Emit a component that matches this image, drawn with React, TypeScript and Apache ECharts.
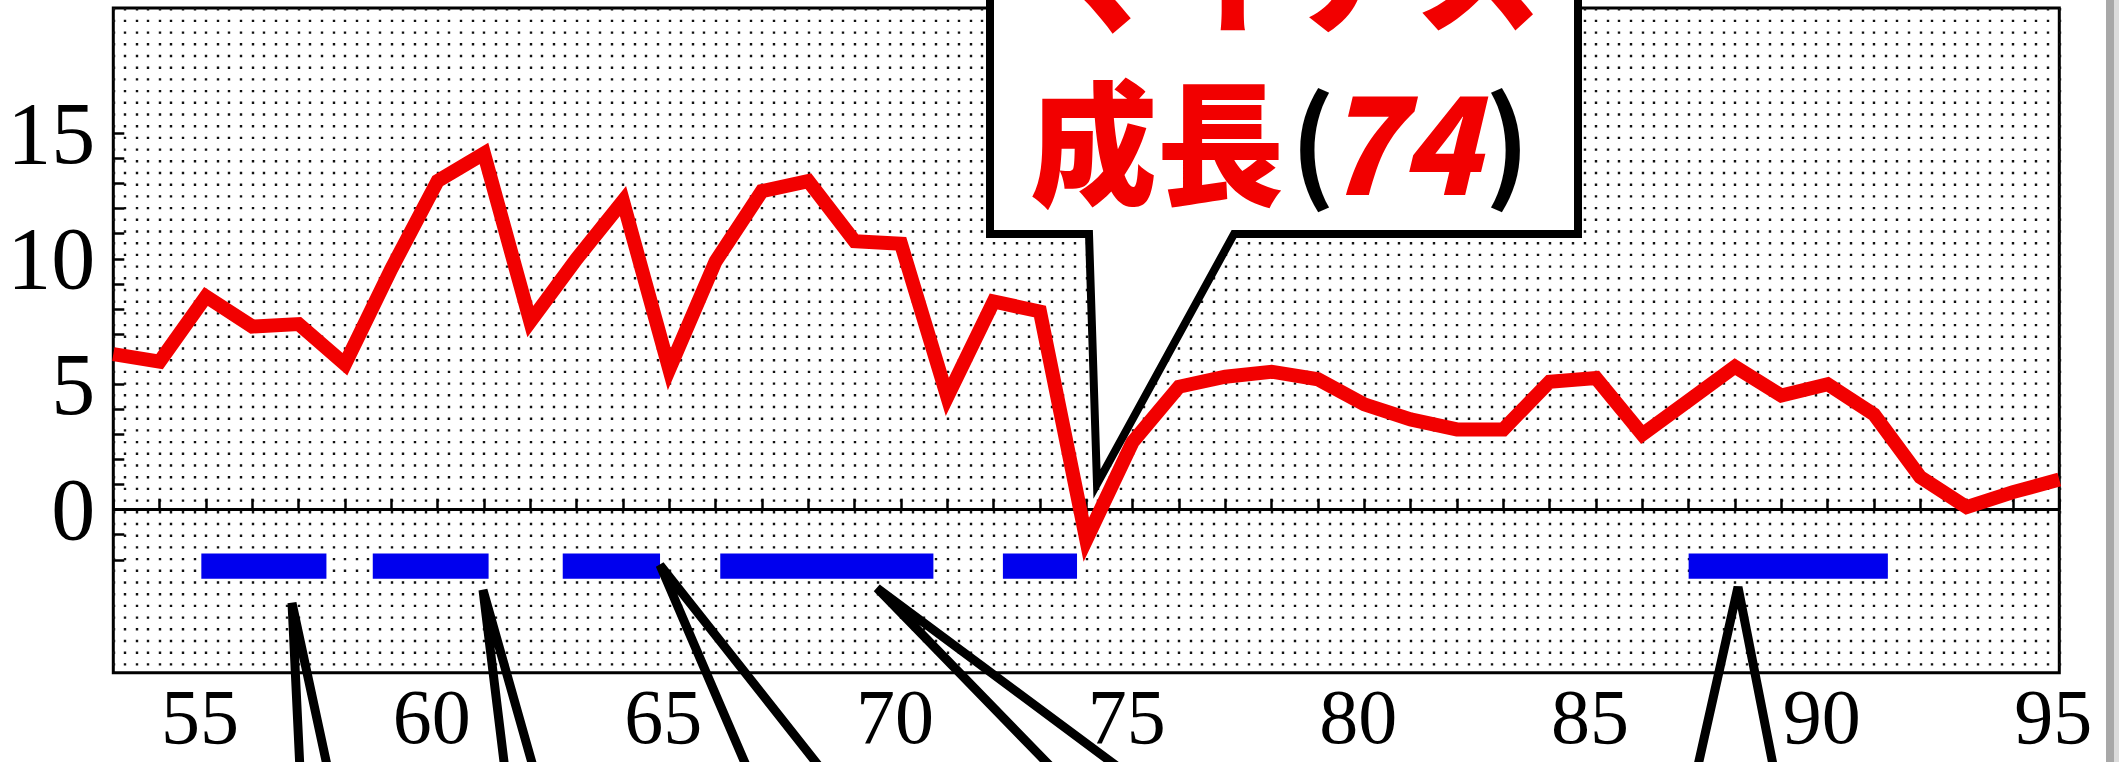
import React, { useEffect, useRef } from "react";
import * as echarts from "echarts";

// Years (19xx, two-digit) and growth rate (%)
const years = [
  53, 54, 55, 56, 57, 58, 59, 60, 61, 62, 63, 64, 65, 66, 67, 68, 69, 70, 71, 72, 73, 74,
  75, 76, 77, 78, 79, 80, 81, 82, 83, 84, 85, 86, 87, 88, 89, 90, 91, 92, 93, 94, 95,
];
const growth = [
  6.2, 5.9, 8.5, 7.3, 7.4, 5.8, 9.6, 13.1, 14.2, 7.5, 10.0, 12.3, 5.6, 9.9, 12.7, 13.1, 10.7,
  10.6, 4.5, 8.3, 7.9, -1.2, 2.7, 4.9, 5.3, 5.5, 5.2, 4.2, 3.6, 3.2, 3.2, 5.1, 5.25, 3.0, 4.35,
  5.7, 4.55, 5.0, 3.8, 1.3, 0.1, 0.7, 1.2,
];
// Boom periods (start, end) drawn as blue bars
const boomStarts = [54.9, 58.6, 62.7, 66.1, 72.2, 87.0];
const boomEnds = [57.6, 61.1, 64.8, 70.7, 73.8, 91.3];

const xLabelYears = [55, 60, 65, 70, 75, 80, 85, 90, 95];
const yLabelValues = [0, 5, 10, 15];
const yTickValues = [-2, -1, 0, 1, 2, 3, 4, 5, 6, 7, 8, 9, 10, 11, 12, 13, 14, 15];

const calloutLine1 = "マイナス";
const calloutLine2 = "成長";
const calloutYear = "74";

const BAR_TOP = -1.75;
const BAR_BOTTOM = -2.75;
const BAR_LEVEL = -2.25;

export default function App() {
  const ref = useRef<HTMLDivElement>(null);

  useEffect(() => {
    if (!ref.current) return;
    const chart = echarts.init(ref.current, null, { renderer: "svg" });

    const dotStyle = { color: "#111", width: 2.4, type: [2.4, 9.3] as any };
    const red = "#f20000";
    const cjk = '"Noto Sans CJK JP", sans-serif';

    const pointer = (pts: number[][]) => ({
      type: "polyline",
      z: 100,
      shape: { points: pts },
      style: { stroke: "#000", lineWidth: 9, fill: null, lineJoin: "miter" },
    });

    const option: any = {
      animation: false,
      backgroundColor: "#ffffff",
      grid: {
        show: true,
        left: 113.3,
        right: 59.7,
        top: 8,
        bottom: 89.3,
        borderColor: "#000",
        borderWidth: 3,
        backgroundColor: "#ffffff",
      },
      xAxis: {
        type: "value",
        min: 53,
        max: 95,
        interval: 1,
        axisLine: { show: false },
        axisTick: { show: true, inside: true, length: 11, lineStyle: { color: "#000", width: 2.5 } },
        axisLabel: {
          customValues: xLabelYears,
          fontFamily: '"Liberation Serif", serif',
          fontSize: 78,
          lineHeight: 60,
          color: "#000",
          margin: 14,
          padding: [0, 12, 0, 0],
        },
        splitLine: { show: true, lineStyle: dotStyle },
        minorTick: { show: false, splitNumber: 4 },
        minorSplitLine: { show: true, lineStyle: dotStyle },
      },
      yAxis: {
        type: "value",
        min: -6.5,
        max: 20,
        axisLine: { show: false },
        axisTick: {
          show: true,
          inside: true,
          length: 11,
          customValues: yTickValues,
          lineStyle: { color: "#000", width: 2.5 },
        },
        axisLabel: {
          customValues: yLabelValues,
          fontFamily: '"Liberation Serif", serif',
          fontSize: 88,
          color: "#000",
          margin: 18,
        },
        splitLine: { show: false },
      },
      series: [
        {
          type: "custom",
          z: 2,
          data: boomStarts.map((s, i) => [s, boomEnds[i], BAR_LEVEL]),
          encode: { x: [0, 1], y: 2 },
          renderItem: (params: any, api: any) => {
            const p1 = api.coord([api.value(0), BAR_TOP]);
            const p2 = api.coord([api.value(1), BAR_BOTTOM]);
            return {
              type: "rect",
              shape: { x: p1[0], y: p1[1], width: p2[0] - p1[0], height: p2[1] - p1[1] },
              style: { fill: "#0000ee" },
            };
          },
          markLine: {
            z: 1,
            silent: true,
            symbol: "none",
            label: { show: false },
            lineStyle: { color: "#000", width: 3, type: "solid" },
            data: [{ yAxis: 0 }],
          },
        },
        {
          type: "line",
          z: 3,
          data: years.map((y, i) => [y, growth[i]]),
          symbol: "none",
          lineStyle: { color: red, width: 14, join: "miter", miterLimit: 4 },
        },
      ],
      graphic: [
        {
          type: "polygon",
          z: 100,
          shape: {
            points: [
              [990, -20],
              [1578, -20],
              [1578, 234],
              [1234, 234],
              [1097, 484],
              [1089, 234],
              [990, 234],
            ],
          },
          style: { fill: "#fff", stroke: "#000", lineWidth: 8, lineJoin: "miter" },
        },
        {
          type: "text",
          z: 101,
          x: 1036,
          y: -36,
          scaleY: 1.06,
          style: {
            text: calloutLine1,
            fontFamily: cjk,
            fontSize: 127,
            fontWeight: 900,
            fill: red,
            align: "left",
            verticalAlign: "middle",
          },
        },
        {
          type: "text",
          z: 101,
          x: 1030,
          y: 136,
          scaleY: 1.06,
          style: {
            text: calloutLine2,
            fontFamily: cjk,
            fontSize: 127,
            fontWeight: 900,
            fill: red,
            align: "left",
            verticalAlign: "middle",
          },
        },
        {
          type: "text",
          z: 101,
          x: 1290,
          y: 136,
          style: {
            text: "(",
            fontFamily: cjk,
            fontSize: 120,
            fontWeight: 700,
            fill: "#000",
            align: "left",
            verticalAlign: "middle",
          },
        },
        {
          type: "text",
          z: 101,
          x: 1323,
          y: 136,
          scaleY: 1.06,
          style: {
            text: calloutYear,
            fontFamily: cjk,
            fontSize: 128,
            fontWeight: 900,
            fontStyle: "italic",
            fill: red,
            align: "left",
            verticalAlign: "middle",
          },
        },
        {
          type: "text",
          z: 101,
          x: 1530,
          y: 136,
          style: {
            text: ")",
            fontFamily: cjk,
            fontSize: 120,
            fontWeight: 700,
            fill: "#000",
            align: "right",
            verticalAlign: "middle",
          },
        },
        pointer([
          [300, 770],
          [292, 603],
          [328, 770],
        ]),
        pointer([
          [505, 770],
          [483, 590],
          [534, 770],
        ]),
        pointer([
          [748, 770],
          [660, 565],
          [822, 770],
        ]),
        pointer([
          [1054, 770],
          [877, 588],
          [1122, 770],
        ]),
        pointer([
          [1697, 770],
          [1738, 587],
          [1774, 770],
        ]),
        {
          type: "rect",
          z: 100,
          shape: { x: 2106, y: 0, width: 8, height: 762 },
          style: { fill: "#a8a8a8" },
        },
        {
          type: "rect",
          z: 100,
          shape: { x: 2114, y: 0, width: 5, height: 762 },
          style: { fill: "#dcdcdc" },
        },
      ],
    };

    chart.setOption(option);
    return () => chart.dispose();
  }, []);

  return (
    <div
      ref={ref}
      style={{ position: "fixed", left: 0, top: 0, width: 2119, height: 762, background: "#fff" }}
    />
  );
}
